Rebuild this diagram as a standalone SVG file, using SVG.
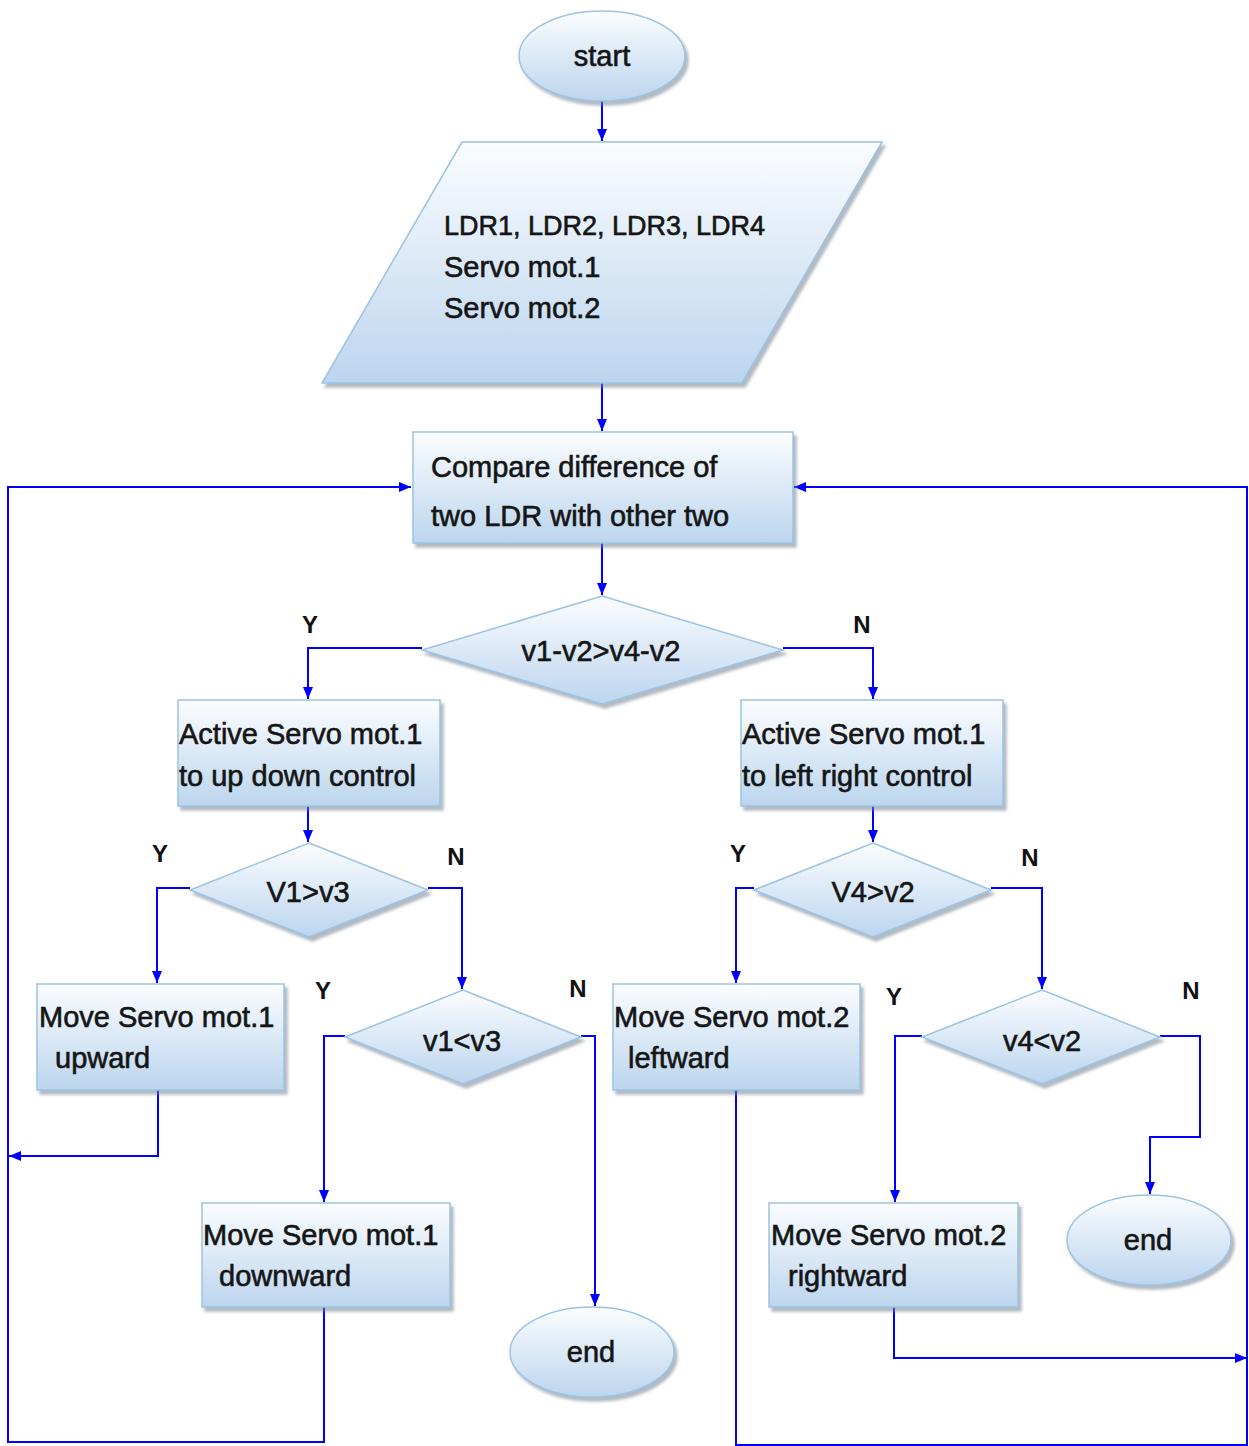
<svg xmlns="http://www.w3.org/2000/svg" width="1249" height="1446" viewBox="0 0 1249 1446">
<defs>
<linearGradient id="g" x1="0" y1="0" x2="0" y2="1">
<stop offset="0" stop-color="#fbfdff"/>
<stop offset="1" stop-color="#bcd5ee"/>
</linearGradient>
<filter id="sh" x="-10%" y="-10%" width="120%" height="130%">
<feDropShadow dx="3" dy="4" stdDeviation="1.5" flood-color="#6f7f8f" flood-opacity="0.55"/>
</filter>
<marker id="ah" viewBox="0 0 12 10" refX="12" refY="5" markerWidth="12" markerHeight="10" markerUnits="userSpaceOnUse" orient="auto">
<path d="M0,0 L12,5 L0,10 z" fill="#0000ff"/>
</marker>
</defs>
<style>
.shape{fill:url(#g);stroke:#9cc2e4;stroke-width:1.5;filter:url(#sh)}
.t{font-family:"Liberation Sans",Arial,sans-serif;font-size:29px;fill:#151515;stroke:#151515;stroke-width:0.6}
.c{text-anchor:middle}
.lbl{font-family:"Liberation Sans",Arial,sans-serif;font-size:24px;font-weight:bold;fill:#111;text-anchor:middle}
.cn{fill:none;stroke:#0000ff;stroke-width:2}
.arr{marker-end:url(#ah)}
</style>
<rect width="1249" height="1446" fill="#ffffff"/>

<g id="connectors">
<path class="cn arr" d="M602,101 V141"/>
<path class="cn arr" d="M602,383 V431"/>
<path class="cn arr" d="M602,543 V595"/>
<path class="cn arr" d="M422,648 H308 V699"/>
<path class="cn arr" d="M783,648 H873 V699"/>
<path class="cn arr" d="M308,806 V842"/>
<path class="cn arr" d="M873,806 V842"/>
<path class="cn arr" d="M190,888 H157 V983"/>
<path class="cn arr" d="M428,888 H462 V989"/>
<path class="cn arr" d="M754,888 H736 V983"/>
<path class="cn arr" d="M991,888 H1042 V989"/>
<path class="cn arr" d="M158,1090 V1156 H9"/>
<path class="cn arr" d="M345,1036 H324 V1202"/>
<path class="cn arr" d="M581,1036 H595 V1306"/>
<path class="cn arr" d="M922,1036 H895 V1202"/>
<path class="cn arr" d="M1160,1036 H1200 V1137 H1150 V1194"/>
<path class="cn arr" d="M324,1307 V1442 H8 V487 H411"/>
<path class="cn arr" d="M736,1090 V1445 H1247 V487 H794"/>
<path class="cn arr" d="M894,1307 V1358 H1247"/>
</g>

<g id="start">
<ellipse class="shape" cx="602" cy="56" rx="83" ry="45"/>
<text class="t c" x="602" y="66">start</text>
</g>

<g id="inputs">
<polygon class="shape" points="462,142 882,142 742,383 322,383"/>
<text class="t" x="444" y="235" style="font-size:27px">LDR1, LDR2, LDR3, LDR4</text>
<text class="t" x="444" y="277">Servo mot.1</text>
<text class="t" x="444" y="318">Servo mot.2</text>
</g>

<g id="compare">
<rect class="shape" x="413" y="432" width="380" height="111"/>
<text class="t" x="431" y="477">Compare difference of</text>
<text class="t" x="431" y="526">two LDR with other two</text>
</g>

<g id="d1">
<polygon class="shape" points="602,596 783,650 602,704 422,650"/>
<text class="t c" x="601" y="661">v1-v2&gt;v4-v2</text>
</g>

<g id="labels">
<text class="lbl" x="310" y="633">Y</text>
<text class="lbl" x="862" y="633">N</text>
<text class="lbl" x="160" y="862">Y</text>
<text class="lbl" x="456" y="865">N</text>
<text class="lbl" x="323" y="999">Y</text>
<text class="lbl" x="578" y="997">N</text>
<text class="lbl" x="738" y="862">Y</text>
<text class="lbl" x="1030" y="866">N</text>
<text class="lbl" x="894" y="1005">Y</text>
<text class="lbl" x="1191" y="999">N</text>
</g>

<g id="active1">
<rect class="shape" x="178" y="700" width="262" height="106"/>
<text class="t" x="179" y="744">Active Servo mot.1</text>
<text class="t" x="179" y="786">to up down control</text>
</g>

<g id="active2">
<rect class="shape" x="741" y="700" width="262" height="106"/>
<text class="t" x="742" y="744">Active Servo mot.1</text>
<text class="t" x="742" y="786">to left right control</text>
</g>

<g id="d2">
<polygon class="shape" points="309,843 428,890 309,937 190,890"/>
<text class="t c" x="308" y="902">V1&gt;v3</text>
</g>

<g id="d3">
<polygon class="shape" points="873,843 991,890 873,937 754,890"/>
<text class="t c" x="873" y="902">V4&gt;v2</text>
</g>

<g id="up">
<rect class="shape" x="37" y="984" width="247" height="106"/>
<text class="t" x="39" y="1027">Move Servo mot.1</text>
<text class="t" x="55" y="1068">upward</text>
</g>

<g id="d4">
<polygon class="shape" points="463,990 581,1037 463,1084 345,1037"/>
<text class="t c" x="462" y="1051">v1&lt;v3</text>
</g>

<g id="left">
<rect class="shape" x="613" y="984" width="247" height="106"/>
<text class="t" x="614" y="1027">Move Servo mot.2</text>
<text class="t" x="628" y="1068">leftward</text>
</g>

<g id="d5">
<polygon class="shape" points="1042,990 1160,1037 1042,1084 922,1037"/>
<text class="t c" x="1042" y="1051">v4&lt;v2</text>
</g>

<g id="down">
<rect class="shape" x="202" y="1203" width="248" height="104"/>
<text class="t" x="203" y="1245">Move Servo mot.1</text>
<text class="t" x="219" y="1286">downward</text>
</g>

<g id="end1">
<ellipse class="shape" cx="592" cy="1352" rx="82" ry="45"/>
<text class="t c" x="591" y="1362">end</text>
</g>

<g id="right">
<rect class="shape" x="769" y="1203" width="249" height="104"/>
<text class="t" x="771" y="1245">Move Servo mot.2</text>
<text class="t" x="788" y="1286">rightward</text>
</g>

<g id="end2">
<ellipse class="shape" cx="1149" cy="1240" rx="82" ry="45"/>
<text class="t c" x="1148" y="1250">end</text>
</g>
</svg>
